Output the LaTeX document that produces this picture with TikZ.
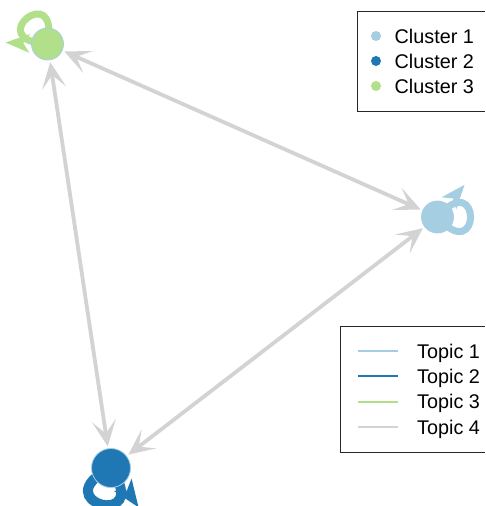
\documentclass[tikz,border=0pt]{standalone}
\usepackage{fontspec}
\setmainfont{Liberation Sans}
\usetikzlibrary{arrows.meta,calc,backgrounds}
\definecolor{lb}{HTML}{A6CEE3}
\definecolor{db}{HTML}{1F78B4}
\definecolor{gr}{HTML}{B2DF8A}
\definecolor{eg}{HTML}{D3D3D3}
% #1 node, #2 loop direction (image angle), #3 scale, #4 colour, #5 line width
\newcommand\selfloop[5]{%
  \draw[draw=#4, line width=#5] (#1.center) .. controls ($(#1)+(#2-49:64*#3)$) and ($(#1)+(#2+49:64*#3)$) .. (#1.center);
  \fill[#4] ($(#1)+(#2-50:40*#3)$) -- ($(#1)+(#2-50:17*#3)+(#2+40:9*#3)$) -- ($(#1)+(#2-50:23*#3)$) -- ($(#1)+(#2-50:17*#3)+(#2-140:9*#3)$) -- cycle;
}
\begin{document}
\begin{tikzpicture}[x=1pt,y=-1pt,
  vtx/.style={circle, draw=lb, line width=0.8pt, inner sep=0pt},
  edgeline/.style={draw=eg, line width=3.8pt,
    {Stealth[length=26pt,width=24pt,inset=13pt]}-{Stealth[length=26pt,width=24pt,inset=13pt]},
    shorten <=2pt, shorten >=2pt},
  lgtext/.style={anchor=base west, inner sep=0pt, font=\fontsize{19.8}{24}\selectfont},
  lgdot/.style={circle, inner sep=0pt, minimum size=10pt},
  lgline/.style={line width=2pt},
  lgbox/.style={draw=black!85, line width=0.9pt}]
\useasboundingbox (0,0) rectangle (485,506);
\node[vtx, fill=gr, minimum size=32pt] (G) at (47.5,44) {};
\node[vtx, fill=lb, minimum size=32pt] (L) at (437.5,217) {};
\node[vtx, fill=db, minimum size=39pt] (D) at (111,468) {};
\begin{pgfonlayer}{background}
\begin{scope}
\clip (0,0) rectangle (485,506);
\draw[edgeline] (G) -- (L);
\draw[edgeline] (G) -- (D);
\draw[edgeline] (L) -- (D);
\selfloop{G}{232}{1.05}{gr}{7pt}
\selfloop{L}{0}{1.05}{lb}{7pt}
\selfloop{D}{105}{1.2}{db}{10pt}
\end{scope}
\end{pgfonlayer}
% cluster legend
\draw[lgbox] (485,11) -- (357.3,11) -- (357.3,111) -- (485,111);
\node[lgdot, fill=lb] (c1) at (376,36) {};
\node[lgdot, fill=db] (c2) at (376,61) {};
\node[lgdot, fill=gr] (c3) at (376,86) {};
\node[lgtext] (ct1) at (394.5,43.1) {Cluster 1};
\node[lgtext] (ct2) at (394.5,68.1) {Cluster 2};
\node[lgtext] (ct3) at (394.5,93.1) {Cluster 3};
% topic legend
\draw[lgbox] (485,326) -- (340.5,326) -- (340.5,452) -- (485,452);
\draw[lgline, lb] (358,351) -- (398,351);
\draw[lgline, db] (358,376.3) -- (398,376.3);
\draw[lgline, gr] (358,401.7) -- (398,401.7);
\draw[lgline, eg] (358,427.3) -- (398,427.3);
\node[lgtext] (pt1) at (417,358.1) {Topic 1};
\node[lgtext] (pt2) at (417,383.4) {Topic 2};
\node[lgtext] (pt3) at (417,408.8) {Topic 3};
\node[lgtext] (pt4) at (417,434.4) {Topic 4};
\end{tikzpicture}
\end{document}
